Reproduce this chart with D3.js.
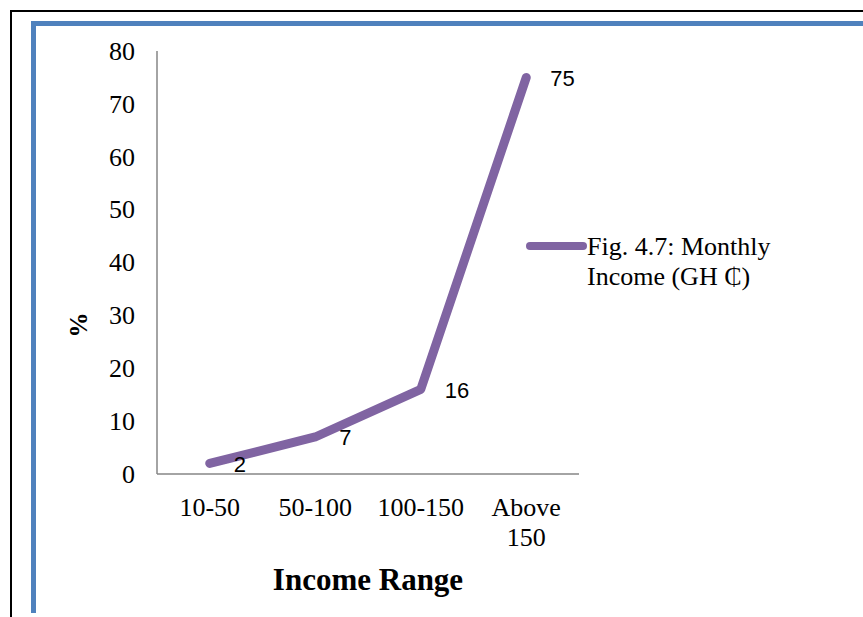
<!DOCTYPE html>
<html><head><meta charset="utf-8">
<script src="https://cdn.jsdelivr.net/npm/d3@7"></script>
<style>body{margin:0;background:#fff}</style>
</head><body>
<svg id="c" width="863" height="617"></svg>
<script>
const categories = [["10-50"], ["50-100"], ["100-150"], ["Above", "150"]];
const categoryKeys = ["10-50", "50-100", "100-150", "Above 150"];
const values = [2, 7, 16, 75];
const yTicks = [0, 10, 20, 30, 40, 50, 60, 70, 80];
const seriesName = ["Fig. 4.7: Monthly", "Income (GH \u20B5)"];

const svg = d3.select("#c");
const serif = "'Liberation Serif','Times New Roman',serif";

// outer frames
svg.append("line").attr("x1", 10).attr("x2", 863).attr("y1", 11).attr("y2", 11).attr("stroke", "#000").attr("stroke-width", 2);
svg.append("line").attr("x1", 11).attr("x2", 11).attr("y1", 10).attr("y2", 617).attr("stroke", "#000").attr("stroke-width", 2);
svg.append("path").attr("d", "M33.5,613 V23.5 H863").attr("fill", "none").attr("stroke", "#4F81BD").attr("stroke-width", 5);

const x = d3.scaleBand().domain(categoryKeys).range([157, 579]);
const y = d3.scaleLinear().domain([0, 80]).range([474, 51]);

// axes lines
svg.append("line").attr("x1", 157).attr("x2", 157).attr("y1", y(80)).attr("y2", y(0)).attr("stroke", "#868686").attr("stroke-width", 1.5);
svg.append("line").attr("x1", 157).attr("x2", 579).attr("y1", y(0)).attr("y2", y(0)).attr("stroke", "#868686").attr("stroke-width", 1.5);

// y tick labels
svg.selectAll(".yt").data(yTicks).enter().append("text")
  .attr("x", 135).attr("y", d => y(d)).attr("dy", "0.34em")
  .attr("text-anchor", "end").attr("font-family", serif).attr("font-size", 26).text(d => d);

// x tick labels
categories.forEach((lines, i) => {
  const cx = x(categoryKeys[i]) + x.bandwidth() / 2;
  const t = svg.append("text").attr("text-anchor", "middle").attr("font-family", serif).attr("font-size", 26)
    .attr("x", cx).attr("y", 516);
  lines.forEach((l, j) => t.append("tspan").attr("x", cx).attr("dy", j ? 30 : 0).text(l));
});

// titles
svg.append("text").attr("transform", "translate(87,325) rotate(-90)").attr("text-anchor", "middle")
  .attr("font-family", serif).attr("font-weight", "bold").attr("font-size", 25).text("%");
svg.append("text").attr("x", 368).attr("y", 590).attr("text-anchor", "middle")
  .attr("font-family", serif).attr("font-weight", "bold").attr("font-size", 31).text("Income Range");

// line
const line = d3.line().x((d, i) => x(categoryKeys[i]) + x.bandwidth() / 2).y(d => y(d));
svg.append("path").datum(values).attr("d", line).attr("fill", "none").attr("stroke", "#8064A2")
  .attr("stroke-width", 9).attr("stroke-linecap", "round").attr("stroke-linejoin", "round");

// data labels
svg.selectAll(".dl").data(values).enter().append("text")
  .attr("x", (d, i) => x(categoryKeys[i]) + x.bandwidth() / 2 + 24).attr("y", d => y(d)).attr("dy", "0.38em")
  .attr("font-family", "'Liberation Sans',Arial,sans-serif").attr("font-size", 22).text(d => d);

// legend
svg.append("line").attr("x1", 530).attr("x2", 583).attr("y1", 246).attr("y2", 246)
  .attr("stroke", "#8064A2").attr("stroke-width", 8).attr("stroke-linecap", "round");
const lg = svg.append("text").attr("font-family", serif).attr("font-size", 26);
seriesName.forEach((s, j) => lg.append("tspan").attr("x", 587).attr("y", 255 + j * 30).text(s));
</script>
</body></html>
